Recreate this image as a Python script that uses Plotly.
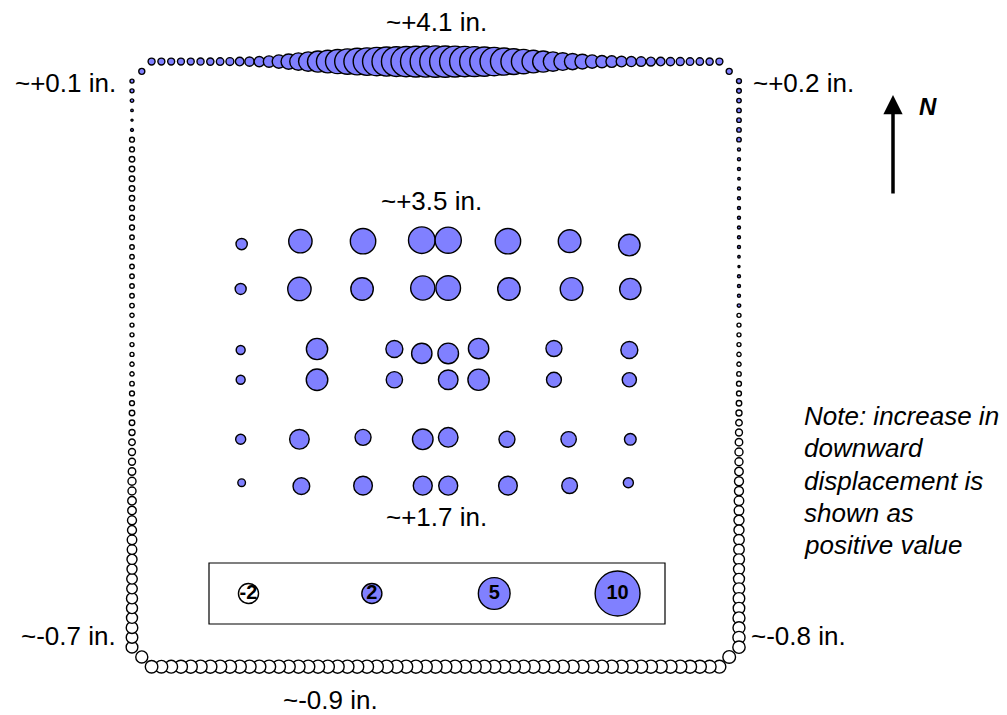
import plotly.graph_objects as go

# survey stations along the slab perimeter (grid units)
top_x = list(range(2, 61))
side_y = list(range(60, 1, -1))
bottom_x = list(range(2, 61))

# displacement readings (downward positive)
top_vals = [0.24, 0.24, 0.24, 0.24, 0.24, 0.25, 0.26, 0.28, 0.31, 0.36,
            0.42, 0.52, 0.65, 0.88, 1.15, 1.5, 1.85, 2.2, 2.55, 2.9,
            3.2, 3.5, 3.75, 4.0, 4.2, 4.4, 4.55, 4.7, 4.8, 4.9,
            4.85, 4.75, 4.6, 4.45, 4.25, 4.0, 3.65, 3.3, 2.95, 2.55,
            2.2, 1.85, 1.55, 1.3, 1.08, 0.88, 0.74, 0.66, 0.56, 0.5,
            0.45, 0.4, 0.36, 0.34, 0.32, 0.29, 0.28, 0.26, 0.24]
left_vals = [0.08, 0.08, 0.06, 0.03, 0.02, 0.04, -0.12, -0.12, -0.15, -0.15,
             -0.15, -0.15, -0.14, -0.12, -0.12, -0.12, -0.10, -0.10, -0.10, -0.10,
             -0.10, -0.10, -0.10, -0.10, -0.09, -0.08, -0.08, -0.08, -0.08, -0.09,
             -0.09, -0.10, -0.12, -0.12, -0.15, -0.15, -0.18, -0.21, -0.24, -0.24,
             -0.28, -0.32, -0.32, -0.36, -0.36, -0.40, -0.40, -0.45, -0.45, -0.50,
             -0.50, -0.55, -0.55, -0.60, -0.60, -0.60, -0.66, -0.66, -0.68]
right_vals = [0.12, 0.11, 0.10, 0.10, 0.10, 0.10, 0.10, 0.045, 0.045, 0.045,
              0.03, 0.045, 0.045, 0.045, 0.045, 0.045, 0.045, 0.045, 0.03, 0.02,
              0.045, 0.045, 0.045, 0.06, -0.08, -0.08, -0.08, -0.08, -0.09, -0.09,
              -0.10, -0.12, -0.12, -0.15, -0.18, -0.21, -0.24, -0.28, -0.32, -0.32,
              -0.36, -0.40, -0.40, -0.45, -0.45, -0.50, -0.50, -0.55, -0.55, -0.60,
              -0.60, -0.60, -0.66, -0.66, -0.66, -0.71, -0.71, -0.73, -0.75]
bottom_vals = [-0.78, -0.8, -0.82, -0.84, -0.85, -0.85, -0.85, -0.86, -0.86, -0.86,
               -0.86, -0.86, -0.86, -0.86, -0.86, -0.86, -0.86, -0.86, -0.86, -0.86,
               -0.86, -0.86, -0.86, -0.86, -0.86, -0.86, -0.86, -0.86, -0.86, -0.86,
               -0.86, -0.86, -0.86, -0.86, -0.86, -0.86, -0.86, -0.86, -0.86, -0.86,
               -0.86, -0.86, -0.86, -0.86, -0.86, -0.86, -0.86, -0.86, -0.86, -0.86,
               -0.86, -0.86, -0.85, -0.85, -0.85, -0.84, -0.84, -0.83, -0.82]
corner_x = [1, 61, 1, 61]
corner_y = [61, 61, 1, 1]
corner_vals = [0.18, 0.18, -0.72, -0.8]

# interior grid
grid_x = [11.2, 17.2, 23.6, 29.6, 32.3, 38.4, 44.7, 50.8,
          11.1, 17.1, 23.5, 29.7, 32.3, 38.5, 44.9, 50.9,
          11.1, 18.9, 26.8, 29.6, 32.3, 35.4, 43.1, 50.8,
          11.1, 18.9, 26.8, 32.3, 35.4, 43.1, 50.8,
          11.1, 17.1, 23.6, 29.7, 32.3, 38.3, 44.6, 50.9,
          11.2, 17.3, 23.6, 29.7, 32.3, 38.4, 44.7, 50.7]
grid_y = [43.3, 43.6, 43.6, 43.7, 43.7, 43.6, 43.6, 43.2,
          38.7, 38.7, 38.7, 38.8, 38.8, 38.7, 38.7, 38.7,
          32.45, 32.55, 32.55, 32.1, 32.1, 32.6, 32.6, 32.45,
          29.4, 29.4, 29.4, 29.4, 29.4, 29.4, 29.4,
          23.3, 23.3, 23.5, 23.3, 23.5, 23.3, 23.3, 23.3,
          18.85, 18.5, 18.55, 18.55, 18.55, 18.55, 18.55, 18.85]
grid_vals = [0.63, 2.7, 3.2, 3.5, 3.4, 3.2, 2.55, 2.3,
             0.6, 2.7, 2.5, 2.9, 3.0, 2.5, 2.55, 2.25,
             0.4, 2.25, 1.43, 2.05, 2.1, 2.05, 1.27, 1.43,
             0.4, 2.3, 1.32, 1.9, 2.25, 1.1, 1.0,
             0.5, 1.9, 1.27, 2.1, 1.9, 1.27, 1.17, 0.68,
             0.29, 1.38, 1.73, 1.79, 1.79, 1.73, 1.22, 0.5]

# size key
key_x = [11.9, 24.5, 37.0, 49.6]
key_y = [7.5, 7.5, 7.5, 7.5]
key_vals = [-2, 2, 5, 10]

BLUE = "#8080ff"
SIZEREF = 2 / 14.2 ** 2
FONT = "Arial, Liberation Sans, sans-serif"


def bubble_trace(xs, ys, vals, text=None):
    return go.Scatter(
        x=xs, y=ys,
        mode="markers+text" if text else "markers",
        text=text, textposition="middle center",
        textfont=dict(family=FONT, size=20, color="black", weight="bold"),
        marker=dict(
            size=[abs(v) for v in vals], sizemode="area", sizeref=SIZEREF,
            color=[BLUE if v > 0 else "white" for v in vals],
            line=dict(color="black", width=1.4), opacity=1,
        ),
        hoverinfo="skip",
    )


per_x = ([corner_x[0]] + top_x + [corner_x[1]] + [62] * len(side_y)
         + [corner_x[3]] + bottom_x[::-1] + [corner_x[2]] + [0] * len(side_y))
per_y = ([corner_y[0]] + [62] * len(top_x) + [corner_y[1]] + side_y
         + [corner_y[3]] + [0] * len(bottom_x) + [corner_y[2]] + side_y[::-1])
per_v = ([corner_vals[0]] + top_vals + [corner_vals[1]] + right_vals
         + [corner_vals[3]] + bottom_vals[::-1] + [corner_vals[2]] + left_vals[::-1])

fig = go.Figure()
fig.add_trace(bubble_trace(per_x, per_y, per_v))
fig.add_trace(bubble_trace(grid_x, grid_y, grid_vals))
fig.add_trace(bubble_trace(key_x, key_y, key_vals, text=[str(v) for v in key_vals]))

# page body keeps an 8px margin, so the figure is 8px smaller each way
OFF = 8
W, H = 1007 - OFF, 715 - OFF


def px(x, y):
    return (x - OFF) / W, 1 - (y - OFF) / H


labels = [
    ("~+4.1 in.", 436, 22, "center"),
    ("~+0.1 in.", 118, 83, "right"),
    ("~+0.2 in.", 751, 83, "left"),
    ("~+3.5 in.", 431, 201, "center"),
    ("~+1.7 in.", 436, 517, "center"),
    ("~-0.7 in.", 118, 636, "right"),
    ("~-0.8 in.", 749, 636, "left"),
    ("~-0.9 in.", 330, 700, "center"),
]
for txt, lx, ly, anc in labels:
    ax_, ay_ = px(lx, ly)
    fig.add_annotation(x=ax_, y=ay_, xref="paper", yref="paper", text=txt,
                       showarrow=False, xanchor=anc, yanchor="middle",
                       font=dict(family=FONT, size=26, color="black"))

note_lines = ["Note: increase in", "downward", "displacement is", "shown as", "positive value"]
for i, line in enumerate(note_lines):
    ax_, ay_ = px(802, 416 + i * 32.3)
    fig.add_annotation(x=ax_, y=ay_, xref="paper", yref="paper", text="<i>" + line + "</i>",
                       showarrow=False, xanchor="left", yanchor="middle",
                       font=dict(family=FONT, size=26, color="black"))

# north arrow
tx, ty = px(893, 95)
fig.add_annotation(x=tx, y=ty, xref="paper", yref="paper", ax=0, ay=100,
                   showarrow=True, arrowhead=2, arrowsize=1.1, arrowwidth=3.5,
                   arrowcolor="black", text="")
nx, ny = px(928, 106)
fig.add_annotation(x=nx, y=ny, xref="paper", yref="paper", text="<b><i>N</i></b>",
                   showarrow=False, xanchor="center", yanchor="middle",
                   font=dict(family=FONT, size=24, color="black"))

# key box
x0, y0 = px(209, 624)
x1, y1 = px(665, 563)
fig.add_shape(type="rect", xref="paper", yref="paper", x0=x0, y0=y0, x1=x1, y1=y1,
              line=dict(color="black", width=1.2), layer="below")

fig.update_layout(
    width=W, height=H,
    margin=dict(l=0, r=0, t=0, b=0),
    plot_bgcolor="white", paper_bgcolor="white",
    showlegend=False,
    xaxis=dict(range=[(OFF - 132) / 9.79, (1007 - 132) / 9.79], visible=False, fixedrange=True),
    yaxis=dict(range=[(666.7 - 715) / 9.76, (666.7 - OFF) / 9.76], visible=False, fixedrange=True),
)

fig.write_html("out.html")
